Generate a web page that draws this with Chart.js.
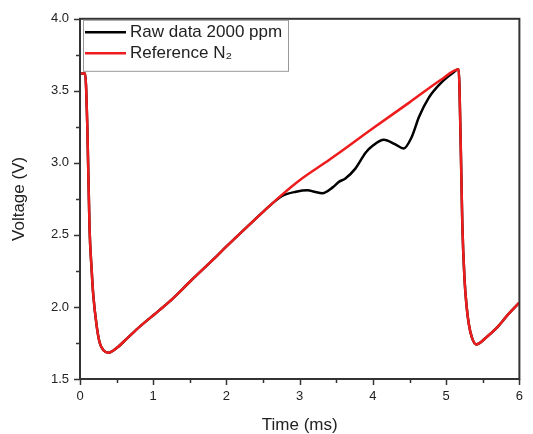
<!DOCTYPE html>
<html>
<head>
<meta charset="utf-8">
<script src="https://cdn.jsdelivr.net/npm/chart.js@4/dist/chart.umd.min.js"></script>
<style>
body{margin:0;background:#fff}
</style>
</head>
<body>
<canvas id="canva1" width="533" height="434"></canvas>
<script>
// dados (tempo em ms, tensao em V)
var tempoRef = [0, 0.07, 0.10, 0.13, 0.16, 0.18, 0.23, 0.27, 0.32, 0.39, 0.5, 0.64, 0.82, 1.09, 1.27, 1.5, 1.81, 2.0, 2.31, 2.5, 2.76, 3.0, 3.4, 3.54, 4.0, 4.5, 4.94, 5.17, 5.20, 5.22, 5.25, 5.28, 5.31, 5.35, 5.41, 5.55, 5.7, 5.85, 6.0]
var tensaoRef = [3.62, 3.62, 3.25, 2.55, 2.25, 2.09, 1.86, 1.75, 1.70, 1.683, 1.715, 1.78, 1.865, 1.98, 2.06, 2.175, 2.325, 2.42, 2.57, 2.66, 2.78, 2.88, 3.02, 3.07, 3.24, 3.42, 3.58, 3.65, 3.10, 2.59, 2.20, 2.00, 1.88, 1.79, 1.74, 1.79, 1.86, 1.95, 2.03]

var tempoRaw = [0, 0.07, 0.10, 0.13, 0.16, 0.18, 0.23, 0.27, 0.32, 0.39, 0.5, 0.64, 0.82, 1.09, 1.27, 1.5, 1.81, 2.0, 2.31, 2.5, 2.76, 2.95, 3.11, 3.2, 3.31, 3.45, 3.54, 3.62, 3.76, 3.9, 4.0, 4.15, 4.3, 4.42, 4.53, 4.63, 4.76, 4.94, 5.08, 5.17, 5.20, 5.22, 5.25, 5.28, 5.31, 5.35, 5.41, 5.55, 5.7, 5.85, 6.0]
var tensaoRaw = [3.62, 3.62, 3.25, 2.55, 2.25, 2.09, 1.86, 1.75, 1.70, 1.683, 1.715, 1.78, 1.865, 1.98, 2.06, 2.175, 2.325, 2.42, 2.57, 2.66, 2.77, 2.80, 2.81, 2.80, 2.79, 2.83, 2.87, 2.89, 2.96, 3.07, 3.12, 3.16, 3.13, 3.10, 3.18, 3.32, 3.45, 3.56, 3.62, 3.65, 3.10, 2.59, 2.20, 2.00, 1.88, 1.79, 1.74, 1.79, 1.86, 1.95, 2.03]

var nomes = ["Raw data 2000 ppm", "Reference N\u2082"]
var cores = ["#000000", "#ee1c1c"]

var ticksX = [0, 1, 2, 3, 4, 5, 6]
var ticksY = [1.5, 2.0, 2.5, 3.0, 3.5, 4.0]

function montarPontos(xs, ys){
var pts = []
for(var i = 0; i < xs.length; i++){
pts.push({x: xs[i], y: ys[i]})
}
return pts
}

var fonte = "'Liberation Sans', Arial, sans-serif"
var corTexto = "#222"
var corEixo = "#333"

// moldura, marcas dos eixos e legenda
const extras = {
id: "extras",
afterDraw(chart){
var ctx = chart.ctx
var a = chart.chartArea
var sx = chart.scales.x
var sy = chart.scales.y
ctx.save()
ctx.strokeStyle = corEixo
ctx.lineWidth = 2
ctx.strokeRect(a.left, a.top, a.right - a.left, a.bottom - a.top)
ctx.lineWidth = 1.5
sx.ticks.forEach(function(t){
var px = Math.round(sx.getPixelForValue(t.value)) + 0.5
var maior = ticksX.indexOf(t.value) >= 0
ctx.beginPath()
ctx.moveTo(px, a.bottom)
ctx.lineTo(px, a.bottom + (maior ? 6 : 4))
ctx.stroke()
})
sy.ticks.forEach(function(t){
var py = Math.round(sy.getPixelForValue(t.value)) + 0.5
var maior = ticksY.indexOf(t.value) >= 0
ctx.beginPath()
ctx.moveTo(a.left, py)
ctx.lineTo(a.left - (maior ? 6 : 4), py)
ctx.stroke()
})
// legenda
var lx = a.left + 3
var ly = a.top + 1
ctx.strokeStyle = "#999"
ctx.lineWidth = 1
ctx.strokeRect(lx + 0.5, ly + 0.5, 205, 51)
ctx.font = "17px " + fonte
ctx.textBaseline = "middle"
ctx.fillStyle = corTexto
chart.data.datasets.forEach(function(ds, i){
var yy = ly + 12.5 + i * 21
ctx.strokeStyle = ds.borderColor
ctx.lineWidth = 2.5
ctx.beginPath()
ctx.moveTo(lx + 2, yy)
ctx.lineTo(lx + 43, yy)
ctx.stroke()
ctx.fillText(ds.label, lx + 47, yy)
})
ctx.restore()
}
}

const config = {
type: "line",
data: {
datasets: [{
label: nomes[0],
data: montarPontos(tempoRaw, tensaoRaw),
borderColor: cores[0],
borderWidth: 2.5,
pointRadius: 0,
cubicInterpolationMode: "monotone",
order: 2
}, {
label: nomes[1],
data: montarPontos(tempoRef, tensaoRef),
borderColor: cores[1],
borderWidth: 2.5,
pointRadius: 0,
cubicInterpolationMode: "monotone",
order: 1
}]
},
options: {
responsive: false,
animation: false,
layout: {padding: {left: 0, right: 12, top: 18, bottom: 0}},
plugins: {legend: {display: false}, tooltip: {enabled: false}},
scales: {
x: {
type: "linear",
min: 0, max: 6,
afterFit: function(s){ s.height = 55 },
grid: {display: true, drawOnChartArea: false, drawTicks: false},
border: {display: true, color: corEixo, width: 2},
ticks: {
stepSize: 0.5,
padding: 10,
color: corTexto,
font: {size: 13, family: fonte},
maxRotation: 0,
callback: function(v){ return ticksX.indexOf(v) >= 0 ? String(v) : "" }
},
title: {display: true, text: "Time (ms)", color: corTexto, font: {size: 17, family: fonte, lineHeight: 1}, padding: {top: 0, bottom: 0.5}}
},
y: {
min: 1.5, max: 4.0,
afterFit: function(s){ s.width = 80 },
grid: {display: true, drawOnChartArea: false, drawTicks: false},
border: {display: true, color: corEixo, width: 2},
ticks: {
stepSize: 0.25,
padding: 11,
color: corTexto,
font: {size: 13, family: fonte},
callback: function(v){ return ticksY.indexOf(v) >= 0 ? v.toFixed(1) : "" }
},
title: {display: true, text: "Voltage (V)", color: corTexto, font: {size: 17, family: fonte, lineHeight: 1}, padding: {top: 10.5, bottom: 0}}
}
}
},
plugins: [extras]
}

const ctx = document.getElementById("canva1").getContext("2d")
window.chart = new Chart(ctx, config)
</script>
</body>
</html>
